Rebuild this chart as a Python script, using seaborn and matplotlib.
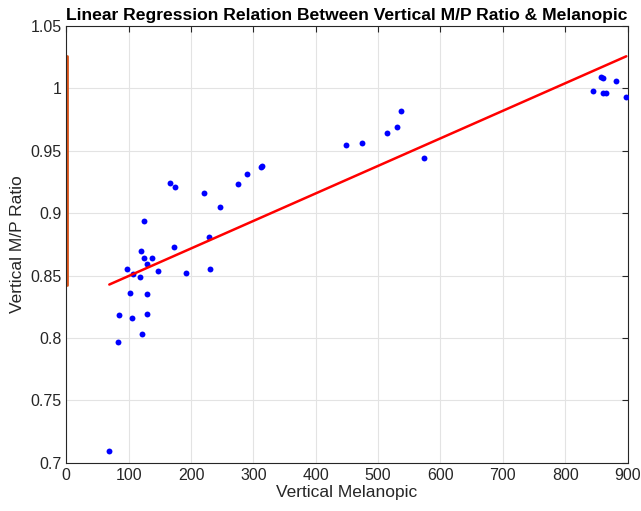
import matplotlib
matplotlib.use("Agg")
import matplotlib.pyplot as plt
import seaborn as sns
import numpy as np

# Vertical melanopic values and matching vertical M/P ratios
melanopic = [69, 83, 85, 98, 102, 105, 107, 118, 120, 122, 124, 125, 129, 130, 130,
             138, 147, 167, 173, 174, 192, 221, 229, 231, 247, 275, 289, 312, 314,
             448, 474, 514, 530, 537, 574, 845, 857, 860, 860, 865, 881, 898]
mp_ratio = [0.709, 0.797, 0.818, 0.855, 0.836, 0.816, 0.851, 0.849, 0.870, 0.803,
            0.894, 0.864, 0.859, 0.835, 0.819, 0.864, 0.854, 0.924, 0.873, 0.921,
            0.852, 0.916, 0.881, 0.855, 0.905, 0.923, 0.931, 0.937, 0.938, 0.955,
            0.956, 0.964, 0.969, 0.982, 0.944, 0.998, 1.009, 1.008, 0.996, 0.996,
            1.006, 0.993]

x = np.array(melanopic, dtype=float)
y = np.array(mp_ratio)
slope, intercept = np.polyfit(x, y, 1)
yfit = slope * x + intercept

sns.set_style("white")
plt.rcParams['font.family'] = ['Liberation Sans', 'DejaVu Sans']

fig = plt.figure(figsize=(6.41, 5.11), dpi=100)
ax = fig.add_axes([0.1034, 0.0945, 0.8756, 0.8546])

ax.grid(True, color="#e3e3e3", linewidth=0.8)
ax.set_axisbelow(True)

sns.scatterplot(x=x, y=y, ax=ax, color="#0000ff", s=18, linewidth=0, zorder=3)
sns.lineplot(x=x, y=yfit, ax=ax, color="#ff0000", linewidth=1.8, zorder=4,
             estimator=None, sort=True)
ax.plot([0.6, 0.6], [yfit.min(), yfit.max()], color="#d95319", linewidth=2, zorder=2)

ax.set_xlim(0, 900)
ax.set_ylim(0.7, 1.05)
ax.set_xticks(np.arange(0, 901, 100))
ax.set_yticks([0.7, 0.75, 0.8, 0.85, 0.9, 0.95, 1.0, 1.05])
ax.set_yticklabels(["0.7", "0.75", "0.8", "0.85", "0.9", "0.95", "1", "1.05"])
ax.tick_params(direction="in", length=4, width=0.8, labelsize=11.5, colors="#262626",
               top=True, right=True, labelcolor="#262626")
for sp in ax.spines.values():
    sp.set_color("#262626")
    sp.set_linewidth(0.8)

ax.set_xlabel("Vertical Melanopic", fontsize=12.5, color="#262626", labelpad=2)
ax.set_ylabel("Vertical M/P Ratio", fontsize=12.5, color="#262626", labelpad=4)
ax.set_title("Linear Regression Relation Between Vertical M/P Ratio & Melanopic",
             fontsize=12.6, fontweight="bold", pad=4, color="black")

fig.savefig("out.png", dpi=100)
